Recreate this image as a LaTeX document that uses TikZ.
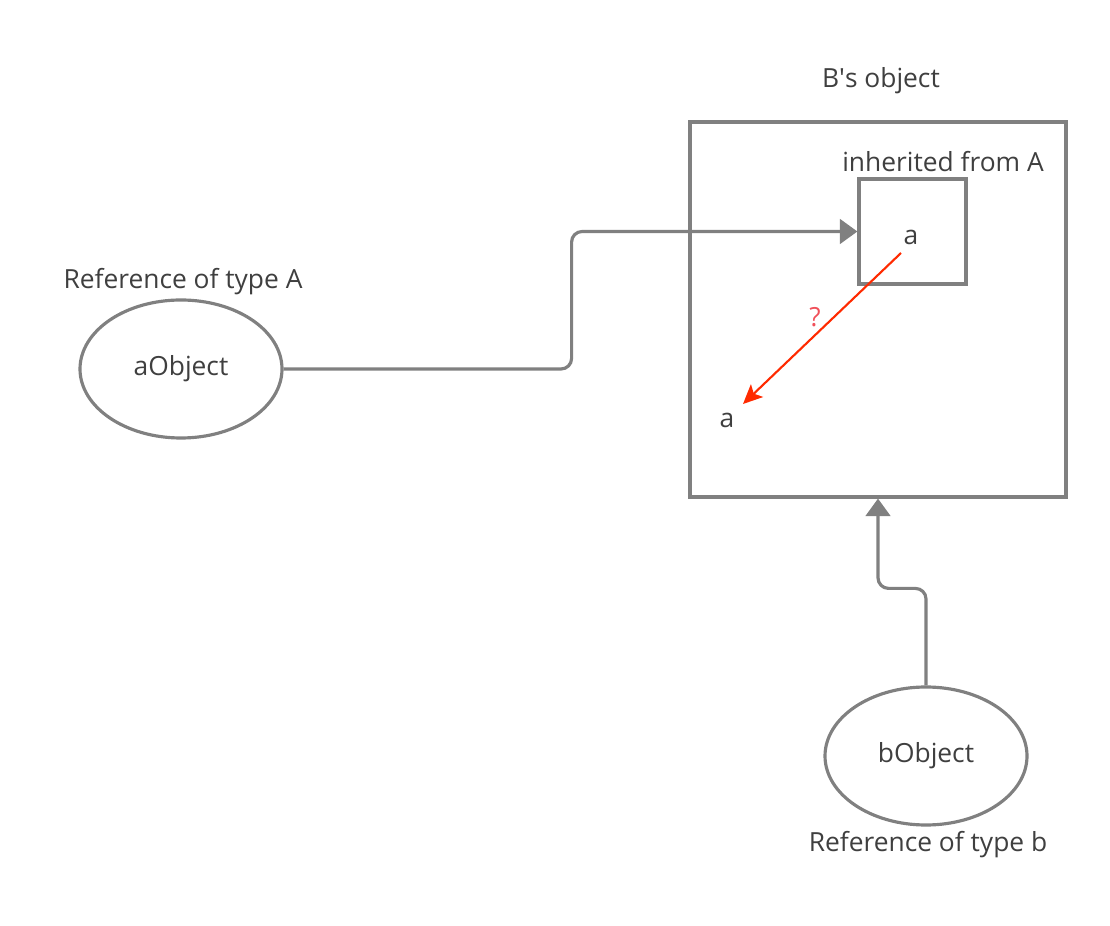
\documentclass[tikz,border=0pt]{standalone}
\usepackage{fontspec}
\setmainfont{Open Sans}
\usepackage{tikz}
\usetikzlibrary{arrows.meta, positioning, shapes.geometric}

\definecolor{linegray}{HTML}{808080}
\definecolor{textgray}{HTML}{3F3F3F}
\definecolor{askred}{HTML}{FF2A00}
\definecolor{qred}{HTML}{F0505A}

\begin{document}
\begin{tikzpicture}[
    lbl/.style={font=\fontsize{15}{18}\selectfont, text=textgray, inner sep=1pt},
    refobj/.style={ellipse, draw=linegray, line width=1.8pt, minimum width=4.04cm, minimum height=2.76cm, lbl},
    box/.style={draw=linegray, line width=1.8pt, inner sep=0pt},
    conn/.style={draw=linegray, line width=1.8pt, rounded corners=6pt, -{Triangle[length=10pt, width=14pt]}},
]
  \useasboundingbox (0,0) rectangle (22.2,18.5);

  % B's object with the part inherited from A
  \node[box, minimum width=7.52cm, minimum height=7.5cm] (bigsq) at (17.56,12.31) {};
  \node[box, minimum width=2.14cm, minimum height=2.1cm] (insq) at (18.25,13.87) {};
  \node[lbl] (bobjlabel) at (17.62,16.88) {B\textquotesingle s object};
  \node[lbl] (inhlabel) at (18.86,15.26) {inherited from A};
  \node[lbl] (ain) at (18.22,13.76) {a};
  \node[lbl] (alow) at (14.54,10.10) {a};

  % the two references
  \node[refobj] (aobj) at (3.62,11.12) {aObject};
  \node[lbl] (areflabel) at (3.66,12.86) {Reference of type A};
  \node[refobj] (bobj) at (18.52,3.38) {bObject};
  \node[lbl] (breflabel) at (18.56,1.60) {Reference of type b};

  % connectors
  \draw[conn] (aobj.east) -- ++(5.76,0) |- (insq.west);
  \draw[conn] (bobj.north) -- ++(0,1.94) -| (bigsq.south);

  % the questioned access
  \node[lbl, text=qred] (qmark) at (16.30,12.16) {?};
  \draw[askred, line width=1.2pt, -{Stealth[length=11pt, width=10pt, inset=2.5pt]}]
        ([shift={(-0.2,-0.32)}]ain.center) -- ([shift={(0.32,0.32)}]alow.center);
\end{tikzpicture}
\end{document}
